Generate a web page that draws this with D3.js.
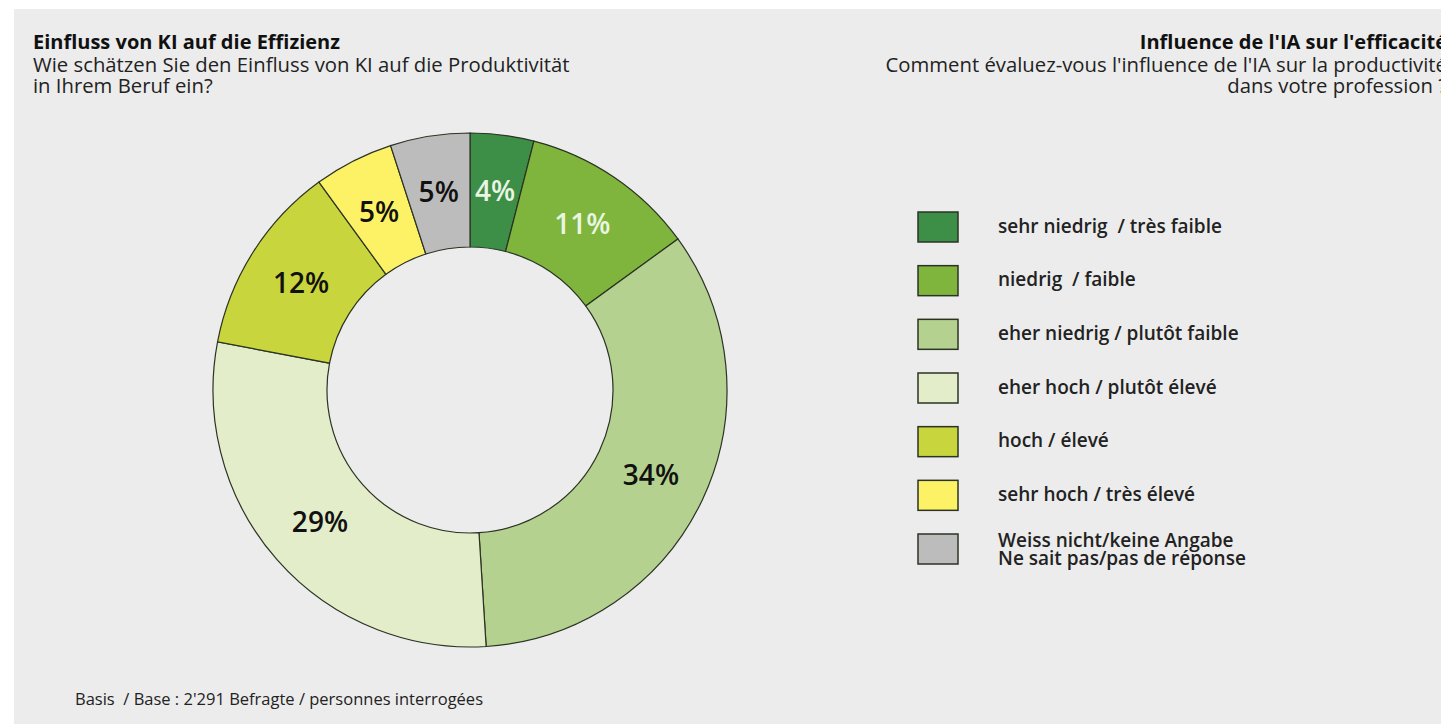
<!DOCTYPE html>
<html>
<head>
<meta charset="utf-8">
<script src="https://cdn.jsdelivr.net/npm/d3@7"></script>
<style>
  body { margin: 0; background: #ffffff; }
  svg { display: block; font-family: "Open Sans", "Noto Sans", sans-serif; }
  text { white-space: pre; }
</style>
</head>
<body>
<div id="chart-area"></div>
<script>
// Chart data
var shares = [4, 11, 34, 29, 12, 5, 5];
var shareLabels = ["4%", "11%", "34%", "29%", "12%", "5%", "5%"];
var categories = [
  ["sehr niedrig  / très faible"],
  ["niedrig  / faible"],
  ["eher niedrig / plutôt faible"],
  ["eher hoch / plutôt élevé"],
  ["hoch / élevé"],
  ["sehr hoch / très élevé"],
  ["Weiss nicht/keine Angabe", "Ne sait pas/pas de réponse"]
];
var colors = ["#3d8f47", "#7fb53c", "#b4d18f", "#e3edca", "#c8d53c", "#fdf266", "#bcbcbc"];
var labelColors = ["#eaf5e2", "#eaf5e2", "#111", "#111", "#111", "#111", "#111"];

var width = 1441, height = 724;

var svg = d3.select("#chart-area")
  .append("svg")
    .attr("width", width)
    .attr("height", height);

// grey panel
svg.append("rect")
  .attr("x", 14)
  .attr("y", 9)
  .attr("width", width - 14)
  .attr("height", height - 9)
  .attr("fill", "#ececec");

// Titles
svg.append("text")
  .attr("x", 33).attr("y", 49)
  .attr("font-size", "20px").attr("font-weight", 700)
  .attr("fill", "#111")
  .text("Einfluss von KI auf die Effizienz");
svg.append("text")
  .attr("x", 33).attr("y", 72)
  .attr("font-size", "20.3px").attr("fill", "#222")
  .text("Wie schätzen Sie den Einfluss von KI auf die Produktivität");
svg.append("text")
  .attr("x", 33).attr("y", 93)
  .attr("font-size", "20.3px").attr("fill", "#222")
  .text("in Ihrem Beruf ein?");

svg.append("text")
  .attr("x", 1447).attr("y", 49)
  .attr("text-anchor", "end")
  .attr("font-size", "20px").attr("font-weight", 700)
  .attr("fill", "#111")
  .text("Influence de l'IA sur l'efficacité");
svg.append("text")
  .attr("x", 1447).attr("y", 72)
  .attr("text-anchor", "end")
  .attr("font-size", "20.3px").attr("fill", "#222")
  .text("Comment évaluez-vous l'influence de l'IA sur la productivité");
svg.append("text")
  .attr("x", 1447).attr("y", 93)
  .attr("text-anchor", "end")
  .attr("font-size", "20.3px").attr("fill", "#222")
  .text("dans votre profession ?");

// Donut
var cx = 470, cy = 390, outerR = 257, innerR = 143;
var pie = d3.pie().sort(null).value(d => d);
var arc = d3.arc().innerRadius(innerR).outerRadius(outerR);
var labelArc = d3.arc().innerRadius(200).outerRadius(200);

var donut = svg.append("g")
  .attr("transform", "translate(" + cx + "," + cy + ")");

var arcs = pie(shares);

donut.selectAll("path")
  .data(arcs)
  .enter().append("path")
    .attr("d", arc)
    .attr("fill", (d, i) => colors[i])
    .attr("stroke", "#2b3324")
    .attr("stroke-width", 1.2);

donut.selectAll("text.pct")
  .data(arcs)
  .enter().append("text")
    .attr("class", "pct")
    .attr("transform", d => "translate(" + labelArc.centroid(d) + ")")
    .attr("text-anchor", "middle")
    .attr("dy", "0.35em")
    .attr("font-size", "28px")
    .attr("font-weight", 600)
    .attr("fill", (d, i) => labelColors[i])
    .text((d, i) => shareLabels[i]);

// Legend
var legendY = d3.scalePoint()
  .domain(d3.range(categories.length))
  .range([227, 549]);

var legend = svg.append("g");
var item = legend.selectAll("g")
  .data(categories)
  .enter().append("g")
    .attr("transform", (d, i) => "translate(918," + legendY(i) + ")");

item.append("rect")
  .attr("x", 0).attr("y", -15)
  .attr("width", 40).attr("height", 30)
  .attr("fill", (d, i) => colors[i])
  .attr("stroke", "#2b3324")
  .attr("stroke-width", 1.5);

item.each(function(d) {
  var t = d3.select(this).append("text")
    .attr("x", 80)
    .attr("font-size", "19px")
    .attr("font-weight", 600)
    .attr("fill", "#222");
  var y0 = d.length === 1 ? -1 : -9;
  d.forEach((line, j) => {
    t.append("tspan")
      .attr("x", 80)
      .attr("y", y0 + j * 18)
      .attr("dy", "0.35em")
      .text(line);
  });
});

// Footnote
svg.append("text")
  .attr("x", 75).attr("y", 705)
  .attr("font-size", "16.5px")
  .attr("fill", "#222")
  .text("Basis  / Base : 2'291 Befragte / personnes interrogées");
</script>
</body>
</html>
